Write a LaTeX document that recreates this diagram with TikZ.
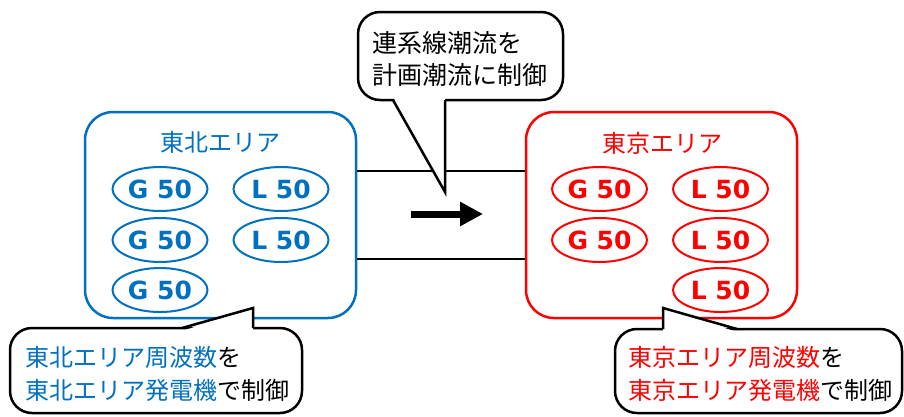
\documentclass[tikz,border=0pt]{standalone}
\usepackage{fontspec}
\setmainfont{Noto Sans CJK JP}
\newfontfamily\unitfont{DejaVu Sans}
\usetikzlibrary{arrows.meta,shapes.geometric}
\definecolor{tblue}{RGB}{0,112,192}
\definecolor{tred}{RGB}{255,0,0}
\begin{document}
\begin{tikzpicture}[x=1pt,y=-1pt,
  area/.style={draw, line width=2.5pt, rounded corners=28pt, inner sep=0pt,
    minimum width=271pt, minimum height=206pt},
  title/.style={inner sep=0pt, font=\fontsize{24}{24}\selectfont},
  unit/.style={draw, ellipse, line width=2pt, inner sep=0pt,
    minimum width=95pt, minimum height=44pt,
    font=\unitfont\bfseries\fontsize{25}{25}\selectfont},
  callout/.style={draw, fill=white, line width=2.5pt, rounded corners=22pt, inner sep=0pt},
  ctext/.style={inner sep=0pt, align=left, anchor=west},
  tie/.style={line width=2pt},
  ptr/.style={line width=2.5pt, line join=miter}
]
\useasboundingbox (0,0) rectangle (904,416);

% areas
\node[area, tblue] (TA) at (220.5,215) {};
\node[area, tred] (KA) at (661.5,215) {};

% tie lines
\coordinate (y1) at (0,171);
\coordinate (y2) at (0,259);
\draw[tie] (TA.east |- y1) -- (KA.west |- y1);
\draw[tie] (TA.east |- y2) -- (KA.west |- y2);

% titles
\node[title, text=tblue] (TAt) at (220,142) {東北エリア};
\node[title, text=tred] (KAt) at (662,143) {東京エリア};

% Tohoku units
\node[unit, tblue] (tg1) at (160,189) {G 50};
\node[unit, tblue] (tl1) at (281,189) {L 50};
\node[unit, tblue] (tg2) at (160,240) {G 50};
\node[unit, tblue] (tl2) at (281,240) {L 50};
\node[unit, tblue] (tg3) at (160,290) {G 50};

% Tokyo units
\node[unit, tred] (kg1) at (599.5,189) {G 50};
\node[unit, tred] (kl1) at (720.5,189) {L 50};
\node[unit, tred] (kg2) at (599.5,240) {G 50};
\node[unit, tred] (kl2) at (720.5,240) {L 50};
\node[unit, tred] (kl3) at (720.5,290) {L 50};

% flow arrow
\coordinate (fa) at (411,214);
\coordinate (fb) at (483,214);
\draw[line width=7pt, -{Triangle[length=23pt,width=23pt]}] (fa) -- (fb);

% top callout
\node[callout, minimum width=205pt, minimum height=88pt] (C1) at (460.5,56) {};
\coordinate (c1a) at (393,100);
\coordinate (c1b) at (445,100);
\coordinate (c1t) at (445,192);
\fill[white] (393,97) -- (445,97) -- (c1t) -- cycle;
\draw[ptr] (c1a) -- (c1t) -- (c1b);
\node[ctext, font=\fontsize{25}{32}\selectfont] (C1t) at (372,59) {連系線潮流を\\計画潮流に制御};

% bottom-left callout
\node[callout, minimum width=292pt, minimum height=85pt] (C2) at (156,370.5) {};
\coordinate (c2a) at (182,328);
\coordinate (c2b) at (253,328);
\coordinate (c2t) at (253,308);
\fill[white] (182,331) -- (253,331) -- (c2t) -- cycle;
\draw[ptr] (c2a) -- (c2t) -- (c2b);
\node[ctext, font=\fontsize{24}{33}\selectfont] (C2t) at (25,373.5)
  {\textcolor{tblue}{東北エリア周波数}を\\\textcolor{tblue}{東北エリア発電機}で制御};

% bottom-right callout
\node[callout, minimum width=287pt, minimum height=84pt] (C3) at (758.5,371) {};
\coordinate (c3a) at (663,329);
\coordinate (c3b) at (737,329);
\coordinate (c3t) at (663,308);
\fill[white] (663,332) -- (737,332) -- (c3t) -- cycle;
\draw[ptr] (c3b) -- (c3t) -- (c3a);
\node[ctext, font=\fontsize{24}{33}\selectfont] (C3t) at (628,373.5)
  {\textcolor{tred}{東京エリア周波数}を\\\textcolor{tred}{東京エリア発電機}で制御};
\end{tikzpicture}
\end{document}
